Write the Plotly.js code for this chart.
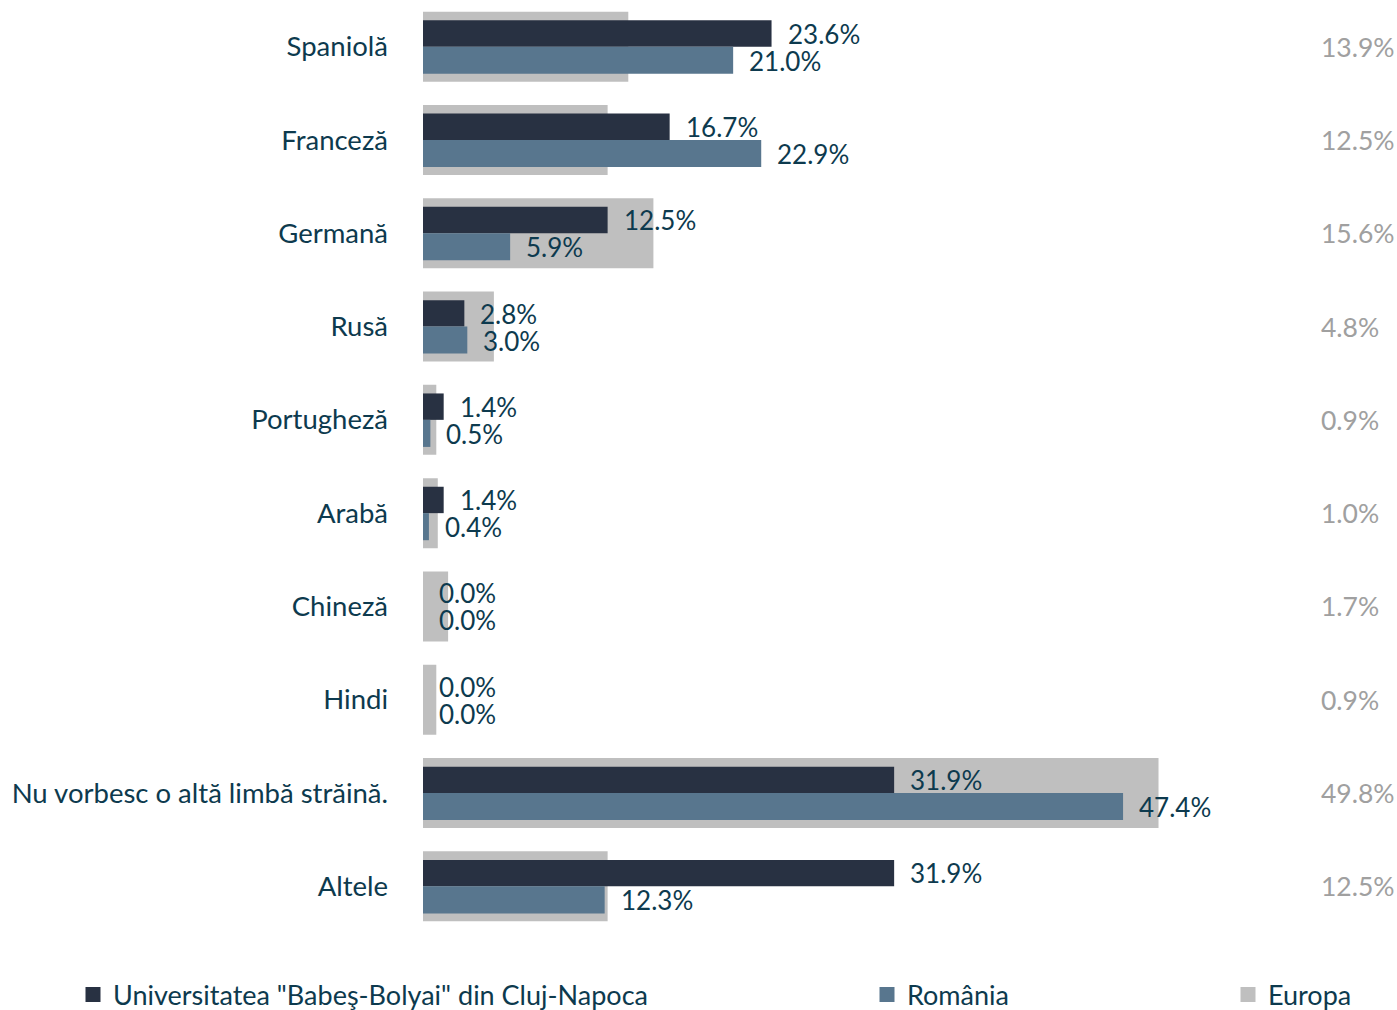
<!DOCTYPE html>
<html>
<head>
<meta charset="utf-8">
<script src="https://cdn.plot.ly/plotly-3.0.1.min.js"></script>
<style>html,body{margin:0;padding:0;background:#fff;}#chart{width:1397px;height:1010px;}</style>
</head>
<body>
<div id="chart"></div>
<script>
const categories = ["Spaniolă","Franceză","Germană","Rusă","Portugheză","Arabă","Chineză","Hindi","Nu vorbesc o altă limbă străină.","Altele"];
const ubbValues = [23.6,16.7,12.5,2.8,1.4,1.4,0.0,0.0,31.9,31.9];
const romaniaValues = [21.0,22.9,5.9,3.0,0.5,0.4,0.0,0.0,47.4,12.3];
const europaValues = [13.9,12.5,15.6,4.8,0.9,1.0,1.7,0.9,49.8,12.5];
const seriesNames = ['Universitatea "Babeş-Bolyai" din Cluj-Napoca', "România", "Europa"];

const FONT = "Lato, 'Open Sans', sans-serif";
const TXT = "#0D3A4E";
const C_UBB = "#283142", C_RO = "#58768E", C_EU = "#BFBFBF";

const traces = [
  {type:"bar", orientation:"h", name:seriesNames[2], y:categories, x:europaValues,
   width:0.75, offset:-0.375, marker:{color:C_EU}, showlegend:false, hoverinfo:"skip"},
  {type:"bar", orientation:"h", name:seriesNames[0], y:categories, x:ubbValues,
   width:0.283, offset:-0.283, marker:{color:C_UBB}, showlegend:false, hoverinfo:"skip"},
  {type:"bar", orientation:"h", name:seriesNames[1], y:categories, x:romaniaValues,
   width:0.29, offset:0, marker:{color:C_RO}, showlegend:false, hoverinfo:"skip"},
  // legend entries (square swatches)
  {type:"scatter", mode:"markers", name:seriesNames[0], x:[null], y:[null],
   marker:{symbol:"square", size:15, color:C_UBB}, legend:"legend", hoverinfo:"skip"},
  {type:"scatter", mode:"markers", name:seriesNames[1], x:[null], y:[null],
   marker:{symbol:"square", size:15, color:C_RO}, legend:"legend2", hoverinfo:"skip"},
  {type:"scatter", mode:"markers", name:seriesNames[2], x:[null], y:[null],
   marker:{symbol:"square", size:15, color:C_EU}, legend:"legend3", hoverinfo:"skip"}
];

const annotations = [];
categories.forEach((c,i)=>{
  annotations.push({x:ubbValues[i], y:c, xref:"x", yref:"y", text:ubbValues[i].toFixed(1)+"%",
    showarrow:false, xanchor:"left", yanchor:"middle", xshift:14, yshift:13,
    font:{family:FONT,size:26,color:TXT}});
  annotations.push({x:romaniaValues[i], y:c, xref:"x", yref:"y", text:romaniaValues[i].toFixed(1)+"%",
    showarrow:false, xanchor:"left", yanchor:"middle", xshift:14, yshift:-14,
    font:{family:FONT,size:26,color:TXT}});
  annotations.push({x:(1319-423)/768, y:c, xref:"paper", yref:"y", text:europaValues[i].toFixed(1)+"%",
    showarrow:false, xanchor:"left", yanchor:"middle",
    font:{family:FONT,size:26.5,color:"#A0A0A0"}});
});

const legBase = {orientation:"h", yref:"container", y:1-995/1010, yanchor:"middle", xref:"container",
  xanchor:"left", font:{family:FONT,size:27,color:TXT}, bgcolor:"rgba(0,0,0,0)", borderwidth:0};

const layout = {
  width:1397, height:1010,
  margin:{l:423, r:206, t:0, b:77},
  paper_bgcolor:"#fff", plot_bgcolor:"#fff",
  barmode:"overlay",
  font:{family:FONT, color:TXT},
  xaxis:{range:[0,52], visible:false, fixedrange:true},
  yaxis:{type:"category", autorange:"reversed", showgrid:false, zeroline:false, showline:false,
    ticks:"", ticklabelstandoff:34, tickfont:{family:FONT,size:27.5,color:TXT}},
  showlegend:true,
  legend:Object.assign({}, legBase, {x:73/1397}),
  legend2:Object.assign({}, legBase, {x:867/1397}),
  legend3:Object.assign({}, legBase, {x:1228/1397}),
  annotations:annotations
};

Plotly.newPlot("chart", traces, layout, {displayModeBar:false, staticPlot:true});
</script>
</body>
</html>
